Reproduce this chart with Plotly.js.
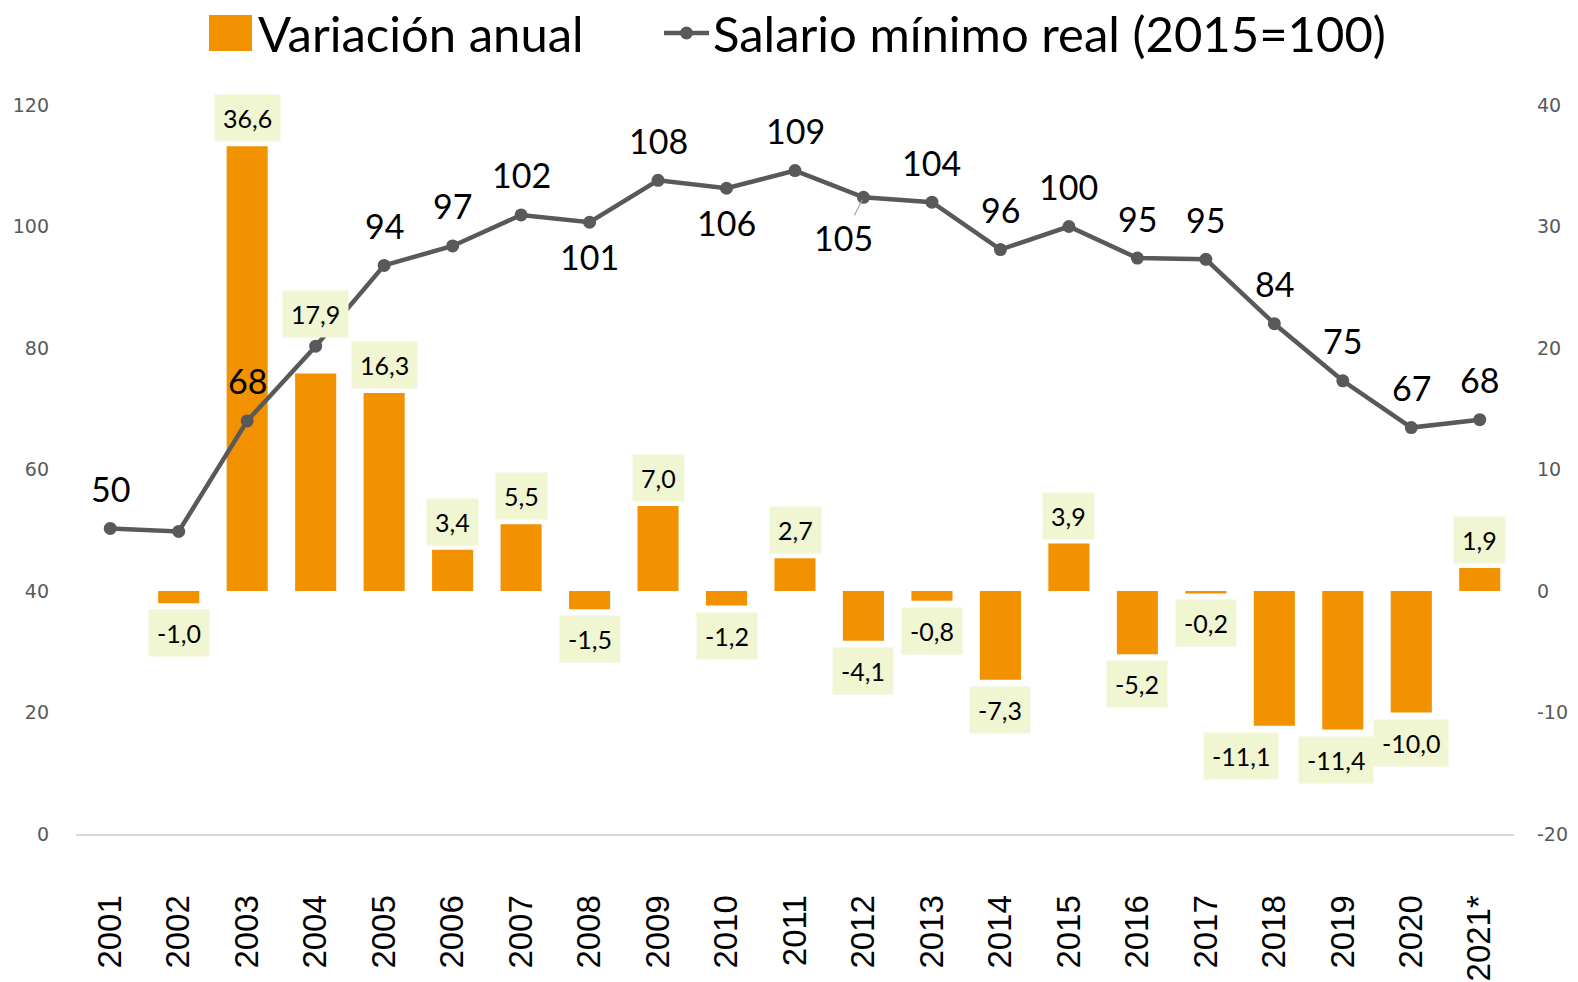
<!DOCTYPE html>
<html>
<head>
<meta charset="utf-8">
<script src="https://cdn.plot.ly/plotly-3.0.1.min.js"></script>
<style>html,body{margin:0;padding:0;background:#fff;}#chart{width:1578px;height:982px;}</style>
</head>
<body>
<div id="chart"></div>
<script>
// ---- data ----
const years = ['2001','2002','2003','2004','2005','2006','2007','2008','2009','2010','2011','2012','2013','2014','2015','2016','2017','2018','2019','2020','2021*'];
const variacion = [null,-1.0,36.6,17.9,16.3,3.4,5.5,-1.5,7.0,-1.2,2.7,-4.1,-0.8,-7.3,3.9,-5.2,-0.2,-11.1,-11.4,-10.0,1.9];
const salarioReal = [50.3,49.8,68.0,80.3,93.6,96.8,101.9,100.7,107.6,106.3,109.2,104.8,104.0,96.2,100.0,94.8,94.6,84.0,74.6,66.9,68.2];
const leftTicks = [0,20,40,60,80,100,120];
const rightTicks = [-20,-10,0,10,20,30,40];

// ---- label placement (style, not data) ----
// line labels: 'a' above, 'b' below, 'n' none, 'l' below-left with leader
const linePos = ['a','n','a','n','a','a','a','b','a','b','a','l','a','a','a','a','a','a','a','a','a'];
const barLabelXShift = {17:-33, 18:-7};
const barLabelYShiftExtra = {3:32};

const ORANGE = '#F39200';
const GREY = '#595959';

const bars = {
  type:'bar', x: years, y: variacion, yaxis:'y',
  marker:{color:ORANGE}, width:0.6, name:'Variación anual',
  hoverinfo:'skip', cliponaxis:false
};
const line = {
  type:'scatter', mode:'lines+markers', x: years, y: salarioReal, yaxis:'y2',
  line:{color:GREY, width:4.5}, marker:{color:GREY, size:13},
  name:'Salario mínimo real (2015=100)', hoverinfo:'skip', cliponaxis:false
};

const annotations = [];
variacion.forEach((v,i)=>{
  if (v===null) return;
  const pos = v >= 0;
  const extra = barLabelYShiftExtra[i] || 0;
  annotations.push({
    x: i, y: v, xref:'x', yref:'y',
    text: v.toFixed(1).replace('.', ','),
    showarrow:false, yanchor:'middle',
    yshift: pos ? (28+extra) : -30,
    xshift: barLabelXShift[i] || 0,
    bgcolor:'#F0F5D2', borderpad:8,
    font:{family:'Lato, sans-serif', size:25, color:'#000'}
  });
});
salarioReal.forEach((v,i)=>{
  const p = linePos[i];
  if (p==='n') return;
  const a = {
    x: i, y: v, xref:'x', yref:'y2',
    text: String(Math.round(v)),
    yanchor:'middle',
    font:{family:'Lato, sans-serif', size:34, color:'#000'}
  };
  if (p==='l') {
    a.showarrow = true; a.arrowhead = 0; a.arrowwidth = 1.2; a.arrowcolor = '#A6A6A6';
    a.ax = -20; a.ay = 40; a.standoff = 3;
  } else {
    a.showarrow = false;
    a.yshift = p==='a' ? 40 : -34;
  }
  annotations.push(a);
});

// custom legend (paper coords derived from pixel layout)
const ML = 76, MR = 64, MT = 105, MB = 148;
const L = ML, W = 1578 - ML - MR, B = 982 - MB, H = B - MT;
const px = v => (v - L) / W;
const py = v => (B - v) / H;
annotations.push({
  xref:'paper', yref:'paper', x:px(256), y:py(33), xanchor:'left', yanchor:'middle',
  text:'Variación anual', showarrow:false,
  font:{family:'Lato, sans-serif', size:49, color:'#000'}
});
annotations.push({
  xref:'paper', yref:'paper', x:px(711), y:py(33), xanchor:'left', yanchor:'middle',
  text:'Salario mínimo real (2015=100)', showarrow:false,
  font:{family:'Lato, sans-serif', size:49, color:'#000'}
});
const shapes = [
  {type:'rect', xref:'paper', yref:'paper', x0:px(209), x1:px(252), y0:py(51), y1:py(15), fillcolor:ORANGE, line:{width:0}},
  {type:'line', xref:'paper', yref:'paper', x0:px(664), x1:px(709), y0:py(33), y1:py(33), line:{color:GREY, width:4.5}},
  {type:'circle', xref:'paper', yref:'paper', x0:px(680), x1:px(693), y0:py(39.5), y1:py(26.5), fillcolor:GREY, line:{width:0}}
];

const layout = {
  width:1578, height:982,
  margin:{l:ML, r:MR, t:MT, b:MB},
  paper_bgcolor:'#fff', plot_bgcolor:'#fff',
  showlegend:false,
  bargap:0.4,
  xaxis:{
    type:'category', range:[-0.5,20.5],
    tickangle:-90, showgrid:false, zeroline:false,
    showline:true, linecolor:'#D9D9D9', linewidth:2,
    ticks:'', ticklabelstandoff:46,
    tickfont:{family:'Liberation Sans, Arial, sans-serif', size:33, color:'#000'}
  },
  yaxis:{
    side:'right', range:[-20,40], tickvals:rightTicks, ticktext:rightTicks.map(String),
    showgrid:false, zeroline:false, showline:false, ticks:'', ticklabelstandoff:22,
    tickfont:{family:'DejaVu Sans, sans-serif', size:19, color:GREY}
  },
  yaxis2:{
    side:'left', overlaying:'y', range:[0,120], tickvals:leftTicks, ticktext:leftTicks.map(String),
    showgrid:false, zeroline:false, showline:false, ticks:'', ticklabelstandoff:26,
    tickfont:{family:'DejaVu Sans, sans-serif', size:19, color:GREY}
  },
  annotations, shapes
};

Plotly.newPlot('chart', [bars, line], layout, {staticPlot:true, displayModeBar:false});
</script>
</body>
</html>
